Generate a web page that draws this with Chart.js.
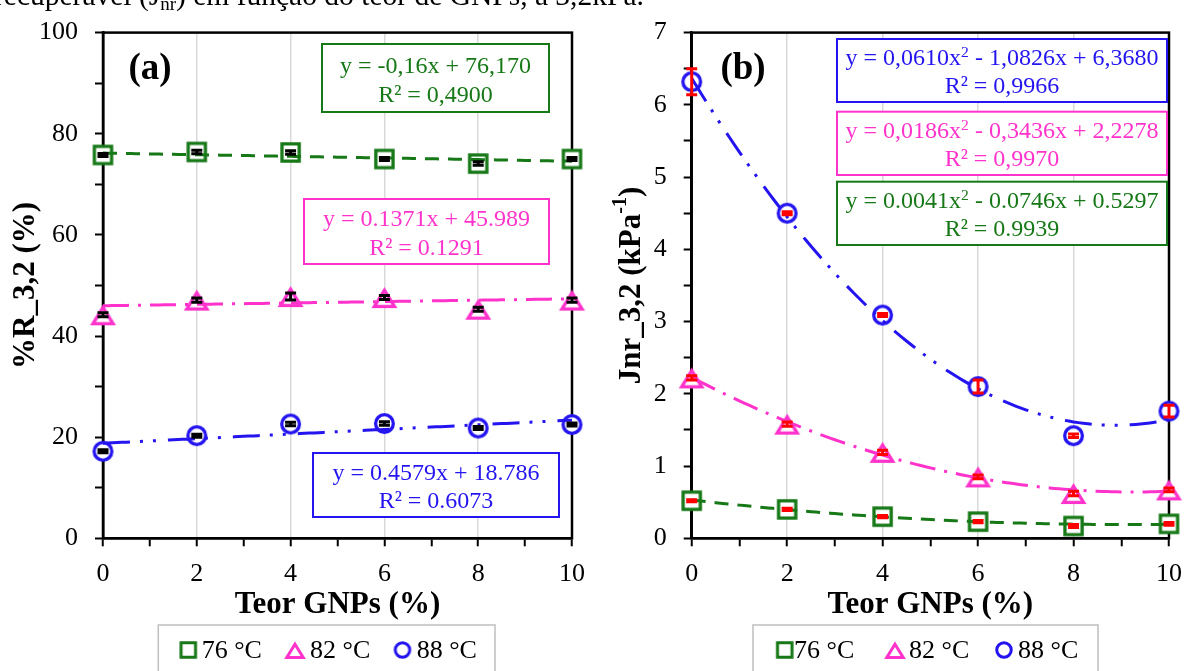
<!DOCTYPE html>
<html>
<head>
<meta charset="utf-8">
<script src="https://cdn.jsdelivr.net/npm/chart.js@4.4.1/dist/chart.umd.min.js"></script>
<style>
  html, body { margin: 0; padding: 0; background: #fff; overflow: hidden; width: 1194px; height: 671px; }
  #wrap { position: relative; width: 1194px; height: 671px; overflow: hidden; background: #fff; }
  canvas { position: absolute; top: 0; }
  #cA { left: 0; }
  #cB { left: 597px; }
  #caption { position: absolute; left: -6px; top: -20px; font: 29.5px "Liberation Serif", "Times New Roman", serif;
             line-height: 31px; white-space: nowrap; color: #000; z-index: 2; }
  #caption sub { font-size: 19px; vertical-align: -5px; line-height: 0; }
</style>
</head>
<body>
<div id="wrap">
  <canvas id="cA" width="597" height="671"></canvas>
  <canvas id="cB" width="597" height="671"></canvas>
  <div id="caption">recuperável (J<sub>nr</sub>) em função do teor de GNPs, a 3,2kPa.</div>
</div>
<script>
// ---- data ----
const teorGNPs = [0, 2, 4, 6, 8, 10];
const seriesNames = ['76 °C', '82 °C', '88 °C'];

// %R at 3.2 kPa
const rec76 = [75.8, 76.4, 76.3, 75.0, 74.1, 75.0];
const rec82 = [44.2, 47.1, 47.8, 47.6, 45.3, 47.1];
const rec88 = [17.2, 20.3, 22.6, 22.7, 21.8, 22.5];
const recErr76 = [0.3, 0.35, 0.35, 0.3, 0.35, 0.3];
const recErr82 = [0.4, 0.4, 0.7, 0.4, 0.4, 0.4];
const recErr88 = [0.3, 0.3, 0.35, 0.35, 0.3, 0.3];

// Jnr at 3.2 kPa (kPa^-1)
const jnr76 = [0.52, 0.40, 0.30, 0.23, 0.17, 0.20];
const jnr82 = [2.22, 1.58, 1.19, 0.85, 0.62, 0.67];
const jnr88 = [6.32, 4.50, 3.09, 2.10, 1.42, 1.76];
const jnrErr76 = [0.015, 0.015, 0.015, 0.015, 0.02, 0.02];
const jnrErr82 = [0.03, 0.03, 0.03, 0.025, 0.03, 0.025];
const jnrErr88 = [0.18, 0.02, 0.02, 0.09, 0.025, 0.08];

// trendline coefficients [c0, c1, c2] as printed in the equation boxes
const fitRec76 = [76.170, -0.16];
const fitRec82 = [45.989, 0.1371];
const fitRec88 = [18.786, 0.4579];
const fitJnr76 = [0.5297, -0.0746, 0.0041];
const fitJnr82 = [2.2278, -0.3436, 0.0186];
const fitJnr88 = [6.3680, -1.0826, 0.0610];

// equation box texts
const eqRec76 = ['y = -0,16x + 76,170', 'R² = 0,4900'];
const eqRec82 = ['y = 0.1371x + 45.989', 'R² = 0.1291'];
const eqRec88 = ['y = 0.4579x + 18.786', 'R² = 0.6073'];
const eqJnr88 = ['y = 0,0610x^{2} - 1,0826x + 6,3680', 'R² = 0,9966'];
const eqJnr82 = ['y = 0,0186x^{2} - 0,3436x + 2,2278', 'R² = 0,9970'];
const eqJnr76 = ['y = 0.0041x^{2} - 0.0746x + 0.5297', 'R² = 0.9939'];

// tick labels
const xTickLabels = [0, 2, 4, 6, 8, 10];
const recTickLabels = [0, 20, 40, 60, 80, 100];
const jnrTickLabels = [0, 1, 2, 3, 4, 5, 6, 7];

// ---- styling ----
const FONT = '"Liberation Serif", "Times New Roman", serif';
const GREEN = '#167816';
const PINK = '#ff33cc';
const BLUE = '#2414f0';

function makeMarker(shape, color, size, lw) {
  const dim = Math.ceil(size + 12);
  const c = document.createElement('canvas');
  c.width = dim; c.height = dim;
  const g = c.getContext('2d');
  const m = dim / 2;
  g.lineWidth = lw; g.strokeStyle = color; g.fillStyle = '#fff'; g.lineJoin = 'miter';
  g.beginPath();
  if (shape === 'square') {
    const s = size - lw;
    g.rect(m - s / 2, m - s / 2, s, s);
  } else if (shape === 'circle') {
    g.arc(m, m, (size - lw) / 2, 0, Math.PI * 2);
  } else {
    const w = size * 0.82, h = size * 0.66;
    const cy = m + 0.8;
    g.moveTo(m, cy - h / 2); g.lineTo(m + w / 2, cy + h / 2); g.lineTo(m - w / 2, cy + h / 2); g.closePath();
  }
  g.fill(); g.stroke();
  return c;
}

const markerShapes = ['square', 'triangle', 'circle'];
const seriesColors = [GREEN, PINK, BLUE];
const plotMarkers = markerShapes.map((s, i) =>
  makeMarker(s, seriesColors[i], s === 'triangle' ? 24.5 : (s === 'circle' ? 21 : 20.5), 3.3));
const legendMarkers = markerShapes.map((s, i) =>
  makeMarker(s, seriesColors[i], s === 'triangle' ? 20 : 17.5, 3));

const fitXs = [];
for (let i = 0; i <= 100; i++) fitXs.push(i / 10);
const poly = (c, x) => c.reduce((s, ck, k) => s + ck * Math.pow(x, k), 0);

const dashes = [[14, 9], [26, 9, 3, 9], [27, 10, 3, 10, 3, 12]];

function richParts(str) {
  const parts = []; let last = 0;
  str.replace(/\^\{([^}]*)\}/g, (m, g, idx) => {
    if (idx > last) parts.push({ t: str.slice(last, idx) });
    parts.push({ t: g, sup: true });
    last = idx + m.length;
  });
  if (last < str.length) parts.push({ t: str.slice(last) });
  return parts;
}

function drawRich(ctx, str, cx, y, size, bold, color, baseline) {
  const parts = richParts(str);
  const f = s => (bold ? 'bold ' : '') + s + 'px ' + FONT;
  let w = 0;
  parts.forEach(p => { ctx.font = f(p.sup ? size * 0.65 : size); p.w = ctx.measureText(p.t).width; w += p.w; });
  let x = cx - w / 2;
  ctx.fillStyle = color; ctx.textAlign = 'left'; ctx.textBaseline = baseline || 'alphabetic';
  parts.forEach(p => {
    ctx.font = f(p.sup ? size * 0.65 : size);
    ctx.fillText(p.t, x, p.sup ? y - size * 0.36 : y);
    x += p.w;
  });
}

const panels = {
  cA: {
    yMin: 0, yMax: 100, yStep: 10, yLabels: recTickLabels, yAxisWidth: 103, padRight: 22,
    series: [
      { ys: rec76, errs: recErr76, fit: fitRec76 },
      { ys: rec82, errs: recErr82, fit: fitRec82 },
      { ys: rec88, errs: recErr88, fit: fitRec88 }
    ],
    errColor: '#000',
    boxes: [
      { lines: eqRec76, color: GREEN, x: 322, y: 44, w: 227, h: 68 },
      { lines: eqRec82, color: PINK, x: 304, y: 199, w: 245, h: 65 },
      { lines: eqRec88, color: BLUE, x: 313, y: 453, w: 246, h: 64 }
    ],
    label: '(a)', labelX: 150,
    yTitle: '%R_3,2 (%)', yTitleX: 26,
    legendBox: [158.3, 625, 336.7],
    legendItems: [[188.3, 201.7], [295, 310], [402.5, 416.7]]
  },
  cB: {
    yMin: 0, yMax: 7, yStep: 0.5, yLabels: jnrTickLabels, yAxisWidth: 94.7, padRight: 15,
    series: [
      { ys: jnr76, errs: jnrErr76, fit: fitJnr76 },
      { ys: jnr82, errs: jnrErr82, fit: fitJnr82 },
      { ys: jnr88, errs: jnrErr88, fit: fitJnr88 }
    ],
    errColor: '#ff0000',
    boxes: [
      { lines: eqJnr88, color: BLUE, x: 240, y: 39, w: 330, h: 63 },
      { lines: eqJnr82, color: PINK, x: 240, y: 111.7, w: 330, h: 63.3 },
      { lines: eqJnr76, color: GREEN, x: 240, y: 181.7, w: 330, h: 63.3 }
    ],
    label: '(b)', labelX: 146,
    yTitle: 'Jnr_3,2 (kPa^{-1})', yTitleX: 35,
    legendBox: [156, 625, 345],
    legendItems: [[187.7, 197], [298, 312], [407, 421]]
  }
};

const decorPlugin = {
  id: 'panelDecor',
  beforeDatasetsDraw(chart) {
    const { ctx, chartArea: a } = chart;
    ctx.save();
    ctx.strokeStyle = '#000'; ctx.lineWidth = 2.5;
    ctx.strokeRect(a.left, a.top, a.right - a.left, a.bottom - a.top);
    ctx.restore();
  },
  afterDatasetsDraw(chart) {
    const p = panels[chart.canvas.id];
    const { ctx, chartArea: a } = chart;
    const ys = chart.scales.y;
    ctx.save();
    // error bars
    p.series.forEach((s, i) => {
      const meta = chart.getDatasetMeta(i * 2);
      meta.data.forEach((el, k) => {
        const v = s.ys[k], e = s.errs[k];
        const y1 = ys.getPixelForValue(v + e), y2 = ys.getPixelForValue(v - e);
        ctx.strokeStyle = p.errColor;
        ctx.lineWidth = 3;
        ctx.beginPath(); ctx.moveTo(el.x, y1); ctx.lineTo(el.x, y2); ctx.stroke();
        ctx.lineWidth = 3;
        ctx.beginPath();
        ctx.moveTo(el.x - 5.5, y1); ctx.lineTo(el.x + 5.5, y1);
        ctx.moveTo(el.x - 5.5, y2); ctx.lineTo(el.x + 5.5, y2);
        ctx.stroke();
      });
    });
    // equation boxes
    p.boxes.forEach(b => {
      ctx.fillStyle = '#fff';
      ctx.fillRect(b.x, b.y, b.w, b.h);
      ctx.strokeStyle = b.color; ctx.lineWidth = 2;
      ctx.strokeRect(b.x, b.y, b.w, b.h);
      drawRich(ctx, b.lines[0], b.x + b.w / 2, b.y + b.h * 0.42, 24, false, b.color);
      drawRich(ctx, b.lines[1], b.x + b.w / 2, b.y + b.h * 0.855, 24, false, b.color);
    });
    // panel label
    ctx.fillStyle = '#000';
    ctx.font = 'bold 37px ' + FONT;
    ctx.textAlign = 'center'; ctx.textBaseline = 'alphabetic';
    ctx.fillText(p.label, p.labelX, 79);
    // axis titles
    drawRich(ctx, 'Teor GNPs (%)', (a.left + a.right) / 2, 613, 31, true, '#000');
    ctx.save();
    ctx.translate(p.yTitleX, (a.top + a.bottom) / 2);
    ctx.rotate(-Math.PI / 2);
    drawRich(ctx, p.yTitle, 0, 0, 31, true, '#000', 'middle');
    ctx.restore();
    // legend
    const [lx, ly, lw] = p.legendBox;
    ctx.strokeStyle = '#bfbfbf'; ctx.lineWidth = 1.5;
    ctx.strokeRect(lx, ly, lw, 80);
    ctx.font = '26px ' + FONT; ctx.fillStyle = '#000';
    ctx.textAlign = 'left'; ctx.textBaseline = 'alphabetic';
    p.legendItems.forEach((it, i) => {
      const mk = legendMarkers[i];
      ctx.drawImage(mk, it[0] - mk.width / 2, 650 - mk.height / 2);
      ctx.fillText(seriesNames[i], it[1], 658.3);
    });
    ctx.restore();
  }
};

function buildChart(id) {
  const p = panels[id];
  const datasets = [];
  p.series.forEach((s, i) => {
    datasets.push({
      label: seriesNames[i],
      data: teorGNPs.map((x, k) => ({ x, y: s.ys[k] })),
      pointStyle: plotMarkers[i], pointRadius: 12, pointHoverRadius: 12,
      showLine: false, order: 2, clip: false
    });
    datasets.push({
      label: seriesNames[i] + ' fit',
      data: fitXs.map(x => ({ x, y: poly(s.fit, x) })),
      showLine: true, pointRadius: 0, borderColor: seriesColors[i], borderWidth: 3,
      borderDash: dashes[i], order: 1, tension: 0, fill: false
    });
  });
  return new Chart(document.getElementById(id), {
    type: 'scatter',
    data: { datasets },
    plugins: [decorPlugin],
    options: {
      responsive: false, animation: false, events: [],
      layout: { padding: { left: 0, right: p.padRight, top: 26.7, bottom: 72.7 } },
      plugins: { legend: { display: false }, tooltip: { enabled: false } },
      scales: {
        x: {
          type: 'linear', min: 0, max: 10,
          ticks: {
            stepSize: 1, autoSkip: false, maxRotation: 0, padding: 12, color: '#000',
            font: { family: FONT, size: 26 },
            callback: v => xTickLabels.includes(v) ? String(v) : ''
          },
          grid: {
            color: c => (c.tick && c.tick.value % 2 === 0 && c.tick.value > 0 && c.tick.value < 10) ? '#d9d9d9' : 'rgba(0,0,0,0)',
            lineWidth: 1.5, tickColor: '#000', tickWidth: 2, tickLength: 8
          },
          border: { color: '#000', width: 2.5 },
          afterFit: s => { s.height = 60; }
        },
        y: {
          type: 'linear', min: p.yMin, max: p.yMax,
          ticks: {
            stepSize: p.yStep, autoSkip: false, padding: 17, color: '#000',
            font: { family: FONT, size: 26 },
            callback: v => p.yLabels.includes(v) ? String(v) : ''
          },
          grid: { drawOnChartArea: false, tickColor: '#000', tickWidth: 2, tickLength: 8 },
          border: { color: '#000', width: 2.5 },
          afterFit: s => { s.width = p.yAxisWidth; }
        }
      }
    }
  });
}

buildChart('cA');
buildChart('cB');
</script>
</body>
</html>
